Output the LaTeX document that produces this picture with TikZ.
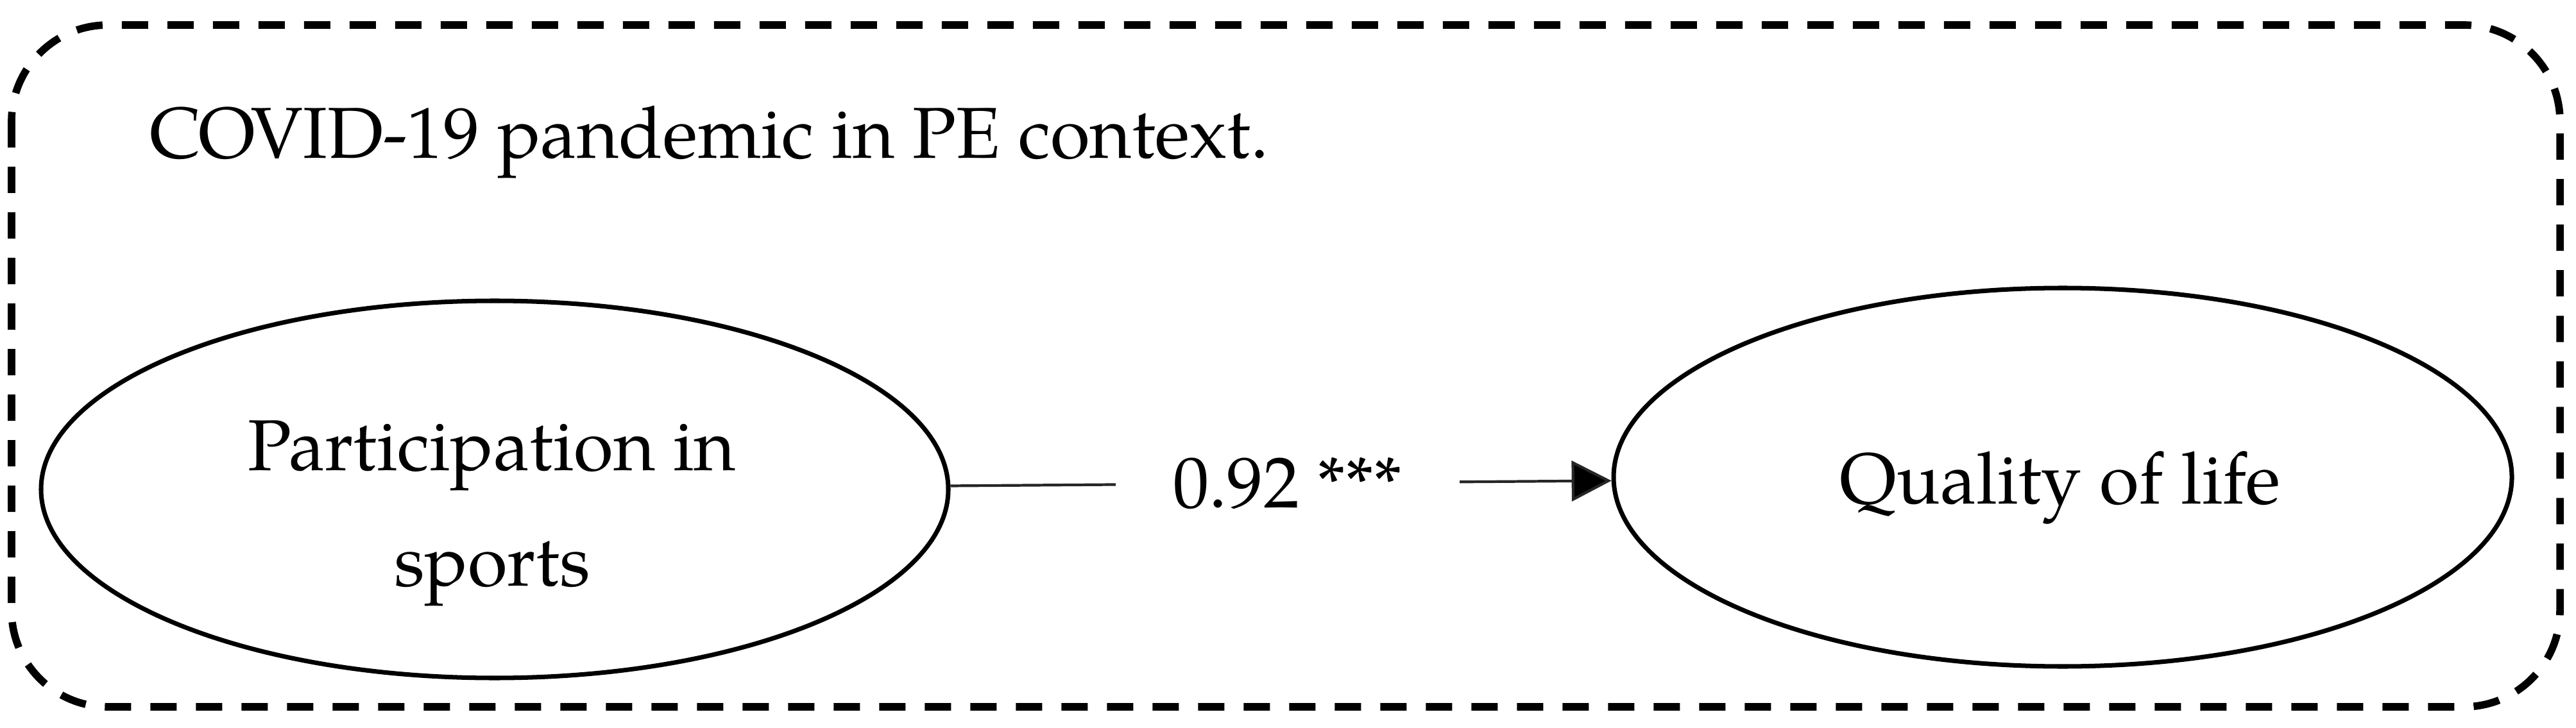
\documentclass[tikz,border=0pt]{standalone}
\usepackage{fontspec}
\setmainfont{TeX Gyre Pagella}
\usetikzlibrary{shapes.geometric,arrows.meta}
\begin{document}
\begin{tikzpicture}[x=1cm,y=1cm,
  txt/.style={inner sep=0pt,font=\fontsize{32}{50}\selectfont},
  latent/.style={draw,ellipse,line width=2pt,inner sep=0pt},
  frame/.style={draw,line width=3.3pt,dash pattern=on 0.41cm off 0.30cm,rounded corners=1.5cm},
  path/.style={line width=1.2pt,draw=black!85,-{Triangle[length=0.62cm,width=0.63cm,fill=black]}}]
\useasboundingbox (0,0) rectangle (40.15,-11.35);
\draw[frame] (0.18,-0.39) rectangle (39.90,-11.02);
\node[txt,anchor=base west] (ctx) at (2.33,-2.47) {COVID-19 pandemic in PE context.};
\node[latent,minimum width=14.14cm,minimum height=5.88cm] (P) at (7.71,-7.63) {};
\node[latent,minimum width=14.00cm,minimum height=5.90cm] (Q) at (32.15,-7.44) {};
\node[txt,anchor=base] (p1) at (7.67,-7.33) {Participation in};
\node[txt,anchor=base] (p2) at (7.67,-9.13) {sports};
\node[txt,anchor=base] (q1) at (32.11,-7.85) {Quality of life};
\draw[path] (P) -- node[txt,fill=white,inner xsep=0.9cm,inner ysep=0.1cm,pos=0.51] (w) {0.92 ***} (Q);
\end{tikzpicture}
\end{document}
